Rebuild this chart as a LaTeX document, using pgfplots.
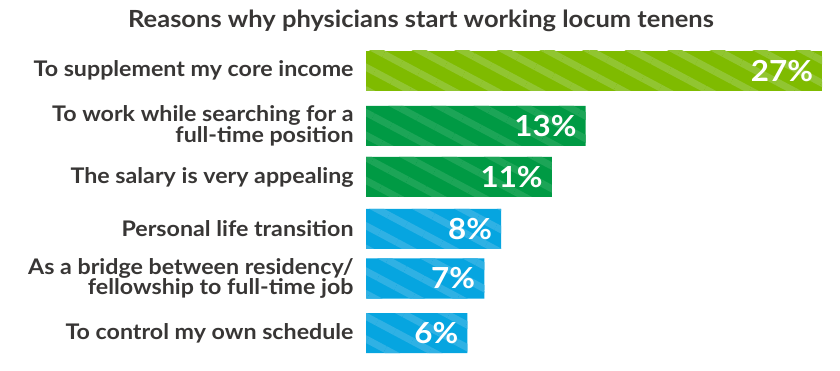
\documentclass[border=0pt]{standalone}
\usepackage{pgfplots}
\pgfplotsset{compat=1.18}
\usepackage{fontspec}
\setmainfont{Lato}[FakeStretch=1.08]
\usetikzlibrary{patterns.meta}
\definecolor{lime}{HTML}{7FBB00}
\definecolor{limeS}{HTML}{91C531}
\definecolor{dgreen}{HTML}{009A44}
\definecolor{dgreenS}{HTML}{1CA557}
\definecolor{blue1}{HTML}{06A5E0}
\definecolor{blue1S}{HTML}{2FB1E4}
\definecolor{txt}{HTML}{383635}
\begin{document}
\begin{tikzpicture}
\path[use as bounding box] (0,0) rectangle (840pt,371pt);
\node[anchor=base, text=txt, font=\bfseries\fontsize{23.6}{25}\selectfont] at (421pt,343.3pt) {Reasons why physicians start working locum tenens};
\begin{axis}[
  at={(366pt,0pt)}, anchor=south west,
  scale only axis, width=457pt, height=371pt,
  xmin=0, xmax=27.05, ymin=0, ymax=371, y dir=reverse,
  axis line style={draw=none}, major tick style={draw=none},
  xtick=\empty,
  ytick={70.7,126,177,229,278.5,333},
  yticklabels={{To supplement my core income},{To work while searching for a\\full-time position},{The salary is very appealing},{Personal life transition},{As a bridge between residency/\\fellowship to full-time job},{To control my own schedule}},
  yticklabel style={anchor=east, inner sep=0pt, xshift=-8pt, align=right, text=txt, font=\bfseries\fontsize{21.5}{20.5}\selectfont},
  xbar, bar width=40, bar shift=0pt,
  /pgf/number format/assume math mode=true,
  nodes near coords={\pgfmathprintnumber{\pgfplotspointmeta}\%},
  every node near coord/.append style={anchor=east, inner sep=0pt, xshift=-9pt, text=white, font=\bfseries\fontsize{29}{29}\selectfont},
]
\addplot[draw=none, fill=lime, postaction={pattern={Lines[angle=-28,distance=20pt,line width=7pt]}, pattern color=limeS}] coordinates {(27,70.7)};
\addplot[draw=none, fill=dgreen, postaction={pattern={Lines[angle=-28,distance=20pt,line width=7pt]}, pattern color=dgreenS}] coordinates {(13,126) (11,177)};
\addplot[draw=none, fill=blue1, postaction={pattern={Lines[angle=-28,distance=20pt,line width=7pt]}, pattern color=blue1S}] coordinates {(8,229) (7,278.5) (6,333)};
\end{axis}
\end{tikzpicture}
\end{document}
